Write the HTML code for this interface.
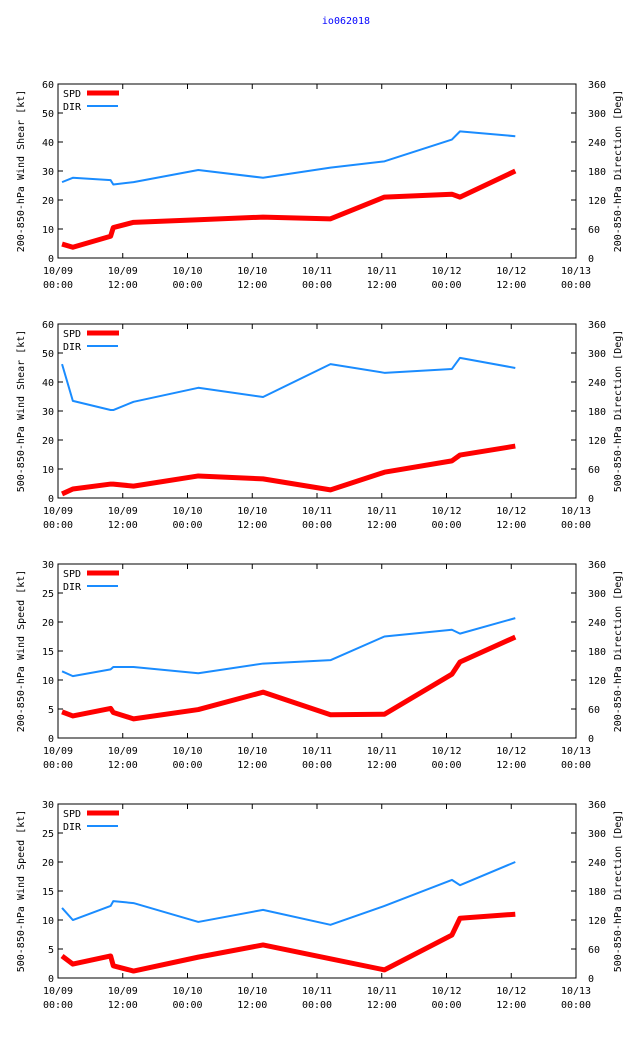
<!DOCTYPE html>
<html><head><meta charset="utf-8"><style>
body{margin:0;background:#fff;width:640px;height:1060px;overflow:hidden}
svg{display:block}
text{font-family:"DejaVu Sans Mono","Liberation Mono",monospace;font-size:10px;fill:#000}
</style></head><body>
<svg id="chart" width="640" height="1060">
<text x="346" y="24" text-anchor="middle" style="fill:#0000ff">io062018</text>
</svg>
<script>
const hours = [0.75, 2.75, 9.75, 10.25, 14, 26, 38, 50.5, 60.5, 73, 74.5, 84.75];
const xTickTop = ["10/09","10/09","10/10","10/10","10/11","10/11","10/12","10/12","10/13"];
const xTickBot = ["00:00","12:00","00:00","12:00","00:00","12:00","00:00","12:00","00:00"];
const rightTicks = [0,60,120,180,240,300,360];
const spd1 = [4.8,3.7,7.5,10.5,12.3,13.2,14.1,13.5,21,22,21,30];
const dir1 = [157,166,161,152,157,182,166,187,200,245,262,252];
const spd2 = [1.4,3.1,4.8,4.8,4.1,7.6,6.6,2.8,8.9,12.8,14.8,17.9];
const dir2 = [277,201,182,182,199,228,209,277,259,267,290,269];
const spd3 = [4.5,3.8,5.1,4.4,3.3,4.9,7.9,4.0,4.1,11,13.1,17.4];
const dir3 = [138,128,142,147,147,134,154,161,210,224,216,248];
const spd4 = [3.8,2.4,3.8,2.1,1.2,3.6,5.7,3.3,1.4,7.4,10.3,11.0];
const dir4 = [145,120,149,159,155,116,141,110,149,203,192,240];
const leftTicks60 = [0,10,20,30,40,50,60];
const leftTicks30 = [0,5,10,15,20,25,30];
const panels = [
 {top:84,ymax:60,ticks:leftTicks60,spd:spd1,dir:dir1,lt:"200-850-hPa Wind Shear [kt]",rt:"200-850-hPa Direction [Deg]"},
 {top:324,ymax:60,ticks:leftTicks60,spd:spd2,dir:dir2,lt:"500-850-hPa Wind Shear [kt]",rt:"500-850-hPa Direction [Deg]"},
 {top:564,ymax:30,ticks:leftTicks30,spd:spd3,dir:dir3,lt:"200-850-hPa Wind Speed [kt]",rt:"200-850-hPa Direction [Deg]"},
 {top:804,ymax:30,ticks:leftTicks30,spd:spd4,dir:dir4,lt:"500-850-hPa Wind Speed [kt]",rt:"500-850-hPa Direction [Deg]"}
];
const svg = document.getElementById('chart');
const NS = "http://www.w3.org/2000/svg";
const L=58,R=576,H=174;
function mk(tag,attrs,txt){const e=document.createElementNS(NS,tag);for(const k in attrs)e.setAttribute(k,attrs[k]);if(txt!==undefined)e.textContent=txt;svg.appendChild(e);return e;}
const xs = h => L + h/96*(R-L);
panels.forEach((p,pi)=>{
  const T=p.top,B=T+H;
  const ys = v => B - v/p.ymax*H;
  const yd = v => B - v/360*H;
  const frame=mk('rect',{x:L,y:T,width:R-L,height:H,fill:'none',stroke:'#000','stroke-width':1});
  
  
  p.ticks.forEach(v=>{
    const y=ys(v);
    mk('line',{x1:L,y1:y,x2:L+5,y2:y,stroke:'#000'});
    const t=mk('text',{x:L-4,y:y+4,'text-anchor':'end'},String(v));
    
    
  });
  rightTicks.forEach(v=>{
    const y=yd(v);
    mk('line',{x1:R-5,y1:y,x2:R,y2:y,stroke:'#000'});
    const t=mk('text',{x:R+12,y:y+4,'text-anchor':'start'},String(v));
    
    
  });
  xTickTop.forEach((s,i)=>{
    const x=xs(i*12);
    mk('line',{x1:x,y1:B,x2:x,y2:B-5,stroke:'#000'});
    mk('line',{x1:x,y1:T,x2:x,y2:T+5,stroke:'#000'});
    const t1=mk('text',{x:x,y:B+16,'text-anchor':'middle'},s);
    
    
    const t2=mk('text',{x:x,y:B+30,'text-anchor':'middle'},xTickBot[i]);
    
    
  });
  const cy=T+H/2;
  const lt=mk('text',{x:24,y:cy,'text-anchor':'middle',transform:`rotate(-90 24 ${cy})`},p.lt);
  
  
  const rt=mk('text',{x:621,y:cy,'text-anchor':'middle',transform:`rotate(-90 621 ${cy})`},p.rt);
  
  
  const dpts=p.dir.map((v,i)=>xs(hours[i])+','+yd(v)).join(' ');
  const dl=mk('polyline',{points:dpts,fill:'none',stroke:'#1a8cff','stroke-width':2,'stroke-linejoin':'round'});
  
  
  const spts=p.spd.map((v,i)=>xs(hours[i])+','+ys(v)).join(' ');
  const sl=mk('polyline',{points:spts,fill:'none',stroke:'#ff0000','stroke-width':5,'stroke-linejoin':'round'});
  
  
  const a=mk('text',{x:63,y:T+13},'SPD');
  
  
  const al=mk('line',{x1:87,y1:T+9,x2:119,y2:T+9,stroke:'#ff0000','stroke-width':5});
  
  
  const b=mk('text',{x:63,y:T+26},'DIR');
  
  
  const bl=mk('line',{x1:87,y1:T+22,x2:118,y2:T+22,stroke:'#1a8cff','stroke-width':2});
  
  
});
</script>
</body></html>
